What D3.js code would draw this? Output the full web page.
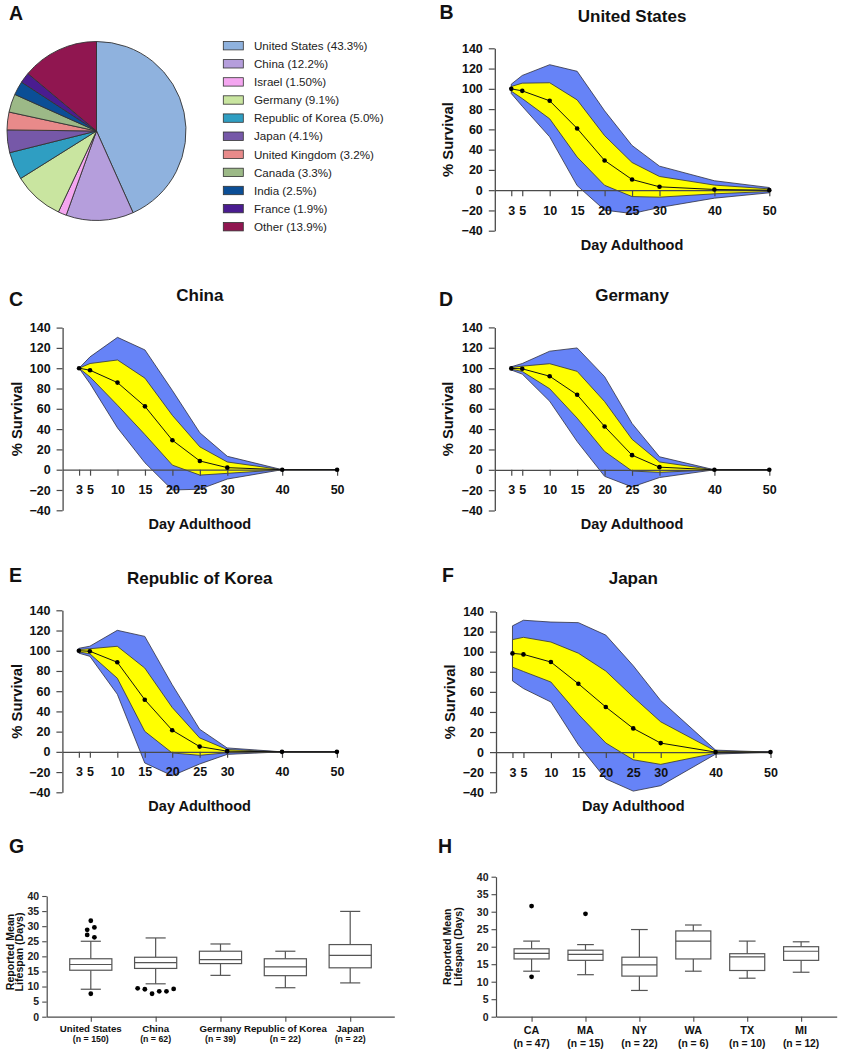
<!DOCTYPE html>
<html><head><meta charset="utf-8">
<script src="https://cdn.jsdelivr.net/npm/d3@7"></script>
<style>
body{margin:0;background:#fff}
svg{display:block}
text{font-family:"Liberation Sans",Arial,Helvetica,sans-serif}
</style>
</head><body>
<svg id="chart" width="842" height="1050"></svg>
<script>
// ---------- Panel A: pie ----------
const pieCategories = ["United States","China","Israel","Germany","Republic of Korea","Japan","United Kingdom","Canada","India","France","Other"];
const pieValues = [43.3,12.2,1.5,9.1,5.0,4.1,3.2,3.3,2.5,1.9,13.9];
const pieLegendLabels = ["United States (43.3%)","China (12.2%)","Israel (1.50%)","Germany (9.1%)","Republic of Korea (5.0%)","Japan (4.1%)","United Kingdom (3.2%)","Canada (3.3%)","India (2.5%)","France (1.9%)","Other (13.9%)"];
const pieColors = ["#8fb2de","#b59edc","#f4a6f0","#c9e5a0","#2f9ec2","#7658a8","#e88a8a","#9cb987","#0b4e96","#4a1c90","#901650"];

// ---------- Panels B-F: survival (mean and SD at each day) ----------
const days = [3,5,10,15,20,25,30,40,50];
const xTickValues = [3,5,10,15,20,25,30,40,50];
const yTickValues = [-40,-20,0,20,40,60,80,100,120,140];
const usMean      = [100,98,88.2,60.9,29.3,10.5,3.3,0.7,0];
const usSD        = [2.3,7.6,17.8,28.2,24.5,16.8,10.2,4.3,1.3];
const chinaMean   = [100,98,85.8,62.4,29,8.6,2,0,0];
const chinaSD     = [0,6.6,22.3,27.8,24.5,13.9,5.6,0,0];
const germanyMean = [99.7,99.3,92,73.8,42.6,14.4,2.6,0,0];
const germanySD   = [0.8,2.6,12.3,23,24.5,15.6,5.1,0,0];
const koreaMean   = [100,99.5,88.6,51.6,21.4,5.2,0.7,0,0];
const koreaSD     = [1.2,2.5,15.8,31.3,22.5,8.6,1.6,0,0];
const japanMean   = [98.3,97.3,89.7,68.1,44.9,23.6,9,0,0];
const japanSD     = [13.7,17,19.9,30.4,35.8,31.2,21.2,1,0];

// ---------- Panel G: box plots by country ----------
const gCategories = ["United States","China","Germany","Republic of Korea","Japan"];
const gN          = [150,62,39,22,22];
const gLow        = [9.1,10.9,13.7,9.6,11.2];
const gQ1         = [15.4,16.0,17.6,13.6,16.2];
const gMedian     = [17.3,17.9,18.9,16.5,20.3];
const gQ3         = [19.2,19.7,21.7,19.2,23.9];
const gHigh       = [25.0,26.1,24.1,21.7,34.9];
const gOutliers   = [[31.8,28.8,29.6,27.1,26.3,7.6],[9.4,9.1,7.6,8.4,8.4,9.2],[],[],[]];

// ---------- Panel H: box plots by US state ----------
const hCategories = ["CA","MA","NY","WA","TX","MI"];
const hN          = [47,15,22,6,10,12];
const hLow        = [13.0,12.0,7.5,13.0,11.0,12.7];
const hQ1         = [16.5,16.1,11.6,16.5,13.2,16.1];
const hMedian     = [18.1,17.8,14.8,21.6,17.1,18.7];
const hQ3         = [19.4,19.0,17.0,24.5,18.0,20.0];
const hHigh       = [21.6,20.6,24.9,26.2,21.6,21.4];
const hOutliers   = [[31.6,11.4],[29.4],[],[],[],[]];
const boxYTicks   = [0,5,10,15,20,25,30,35,40];

const svg = d3.select("#chart");
const AXIS = "#4a4a4a";

function letter(t, x, y) {
  svg.append("text").attr("x", x).attr("y", y).attr("font-size", 19.5)
    .attr("font-weight", "bold").attr("fill", "#111").text(t);
}

// ---------- Pie ----------
(function () {
  letter("A", 9, 19.5);
  const g = svg.append("g").attr("transform", "translate(96.5,131)");
  const pie = d3.pie().sort(null).value(d => d)(pieValues);
  const arc = d3.arc().innerRadius(0).outerRadius(89.5);
  g.selectAll("path").data(pie).join("path")
    .attr("d", arc).attr("fill", (d, i) => pieColors[i])
    .attr("stroke", "#333").attr("stroke-width", 0.9);
  const lg = svg.append("g");
  const row = d3.scaleLinear().domain([0, 10]).range([45.7, 226.7]);
  pieLegendLabels.forEach((lab, i) => {
    lg.append("rect").attr("x", 223.3).attr("y", row(i) - 4.2).attr("width", 20).attr("height", 8.4)
      .attr("fill", pieColors[i]).attr("stroke", "#333").attr("stroke-width", 0.8);
    lg.append("text").attr("x", 254).attr("y", row(i) + 4.2).attr("font-size", 11.6)
      .attr("fill", "#222").text(lab);
  });
})();

// ---------- Survival panels ----------
function survivalPanel(o) {
  letter(o.letter, o.letterX, o.letterY);
  const x = d3.scaleLinear().domain([0, 50]).range([o.left, o.left + 274.5]);
  const y = d3.scaleLinear().domain([-40, 140]).range([o.bottom, o.top]);
  const pts = days.map((d, i) => ({ d: d, m: o.mean[i], s: o.sd[i] }));
  const band = k => d3.area().x(p => x(p.d)).y0(p => y(p.m - k * p.s)).y1(p => y(p.m + k * p.s));
  const g = svg.append("g");
  g.append("path").datum(pts).attr("d", band(2)).attr("fill", "#6683f7")
    .attr("stroke", "#2e3040").attr("stroke-width", 0.8).attr("stroke-linejoin", "round");
  g.append("path").datum(pts).attr("d", band(1)).attr("fill", "#ffff00")
    .attr("stroke", "#333").attr("stroke-width", 0.8).attr("stroke-linejoin", "round");

  const ya = g.append("g").attr("transform", `translate(${x(0)},0)`)
    .call(d3.axisLeft(y).tickValues(yTickValues).tickSize(6).tickSizeOuter(0).tickPadding(6));
  const xa = g.append("g").attr("transform", `translate(0,${y(0)})`)
    .call(d3.axisBottom(x).tickValues(xTickValues).tickSize(6).tickSizeOuter(0).tickPadding(9.6));
  [ya, xa].forEach(a => {
    a.select(".domain").attr("stroke", AXIS).attr("stroke-width", 1.3);
    a.selectAll(".tick line").attr("stroke", AXIS).attr("stroke-width", 1.2);
    a.selectAll(".tick text").attr("font-size", 12.5).attr("font-weight", "bold")
      .attr("fill", "#111").attr("font-family", "Liberation Sans, Arial, sans-serif");
  });

  g.append("path").datum(pts).attr("fill", "none").attr("stroke", "#111").attr("stroke-width", 1)
    .attr("d", d3.line().x(p => x(p.d)).y(p => y(p.m)));
  g.selectAll("circle").data(pts).join("circle")
    .attr("cx", p => x(p.d)).attr("cy", p => y(p.m)).attr("r", 2.3).attr("fill", "#000");

  const cx = x(25);
  svg.append("text").attr("x", cx).attr("y", o.titleY).attr("text-anchor", "middle")
    .attr("font-size", 17).attr("font-weight", "bold").attr("fill", "#111").text(o.title);
  svg.append("text").attr("x", cx).attr("y", o.xlabY).attr("text-anchor", "middle")
    .attr("font-size", 14.5).attr("font-weight", "bold").attr("fill", "#111").text("Day Adulthood");
  svg.append("text").attr("transform", `translate(${o.ylabX},${(o.top + o.bottom) / 2}) rotate(-90)`)
    .attr("text-anchor", "middle").attr("font-size", 14.8).attr("font-weight", "bold")
    .attr("fill", "#111").text("% Survival");
}

survivalPanel({ letter: "B", title: "United States", mean: usMean, sd: usSD,
  left: 494.8, top: 48.3, bottom: 230.7, titleY: 21.7, xlabY: 250, ylabX: 453.3, letterX: 439.5, letterY: 18.5 });
survivalPanel({ letter: "C", title: "China", mean: chinaMean, sd: chinaSD,
  left: 62.6, top: 327.6, bottom: 510.3, titleY: 300.7, xlabY: 529, ylabX: 21.7, letterX: 9, letterY: 305.7 });
survivalPanel({ letter: "D", title: "Germany", mean: germanyMean, sd: germanySD,
  left: 494.8, top: 327.4, bottom: 510.5, titleY: 300.5, xlabY: 529, ylabX: 453.3, letterX: 439, letterY: 305.7 });
survivalPanel({ letter: "E", title: "Republic of Korea", mean: koreaMean, sd: koreaSD,
  left: 62.4, top: 610.3, bottom: 792.3, titleY: 584.3, xlabY: 810.7, ylabX: 21.7, letterX: 9, letterY: 581.7 });
survivalPanel({ letter: "F", title: "Japan", mean: japanMean, sd: japanSD,
  left: 496, top: 611.5, bottom: 792.3, titleY: 584.3, xlabY: 810.7, ylabX: 455, letterX: 442, letterY: 581.7 });

// ---------- Box plot panels ----------
function clusterDodge(vals, y, cx, r) {
  const clusters = [];
  vals.forEach(v => {
    const py = y(v);
    let c = clusters.find(cl => cl.some(p => Math.abs(p.y - py) < 2 * r));
    if (!c) { c = []; clusters.push(c); }
    c.push({ v: v, y: py });
  });
  const out = [];
  const sp = 2 * r + 2.4;
  clusters.forEach(cl => cl.forEach((p, i) => out.push({ x: cx + (i - (cl.length - 1) / 2) * sp, y: p.y })));
  return out;
}

function boxPanel(o) {
  letter(o.letter, o.letterX, 853);
  const x = d3.scalePoint().domain(o.cats).range([o.axisX, o.right]).padding(o.pad);
  const y = d3.scaleLinear().domain([0, 40]).range([1016.7, o.top]);
  const g = svg.append("g");
  const step = x.step();
  const ya = g.append("g").attr("transform", `translate(${o.axisX},0)`)
    .call(d3.axisLeft(y).tickValues(boxYTicks).tickSize(4.5).tickSizeOuter(0).tickPadding(3));
  const xa = g.append("g").attr("transform", `translate(0,${y(0)})`)
    .call(d3.axisBottom(x).tickSize(5).tickSizeOuter(0).tickFormat(""));
  [ya, xa].forEach(a => {
    a.select(".domain").attr("stroke", AXIS).attr("stroke-width", 1.2);
    a.selectAll(".tick line").attr("stroke", AXIS).attr("stroke-width", 1.1);
  });
  ya.selectAll(".tick text").attr("font-size", 10.5).attr("font-weight", "bold").attr("fill", "#222")
    .attr("font-family", "Liberation Sans, Arial, sans-serif");

  const bw = step * 0.65, cw = step * 0.31;
  o.cats.forEach((c, i) => {
    const cx = x(c);
    const bg = g.append("g").attr("stroke", "#555").attr("stroke-width", 1.2).attr("fill", "none");
    bg.append("line").attr("x1", cx).attr("x2", cx).attr("y1", y(o.high[i])).attr("y2", y(o.q3[i]));
    bg.append("line").attr("x1", cx).attr("x2", cx).attr("y1", y(o.q1[i])).attr("y2", y(o.low[i]));
    bg.append("line").attr("x1", cx - cw / 2).attr("x2", cx + cw / 2).attr("y1", y(o.high[i])).attr("y2", y(o.high[i]));
    bg.append("line").attr("x1", cx - cw / 2).attr("x2", cx + cw / 2).attr("y1", y(o.low[i])).attr("y2", y(o.low[i]));
    bg.append("rect").attr("x", cx - bw / 2).attr("width", bw).attr("y", y(o.q3[i]))
      .attr("height", y(o.q1[i]) - y(o.q3[i])).attr("fill", "#fff");
    bg.append("line").attr("x1", cx - bw / 2).attr("x2", cx + bw / 2).attr("y1", y(o.med[i])).attr("y2", y(o.med[i]));
    clusterDodge(o.outliers[i], y, cx, 2.4).forEach(p => {
      g.append("circle").attr("cx", p.x).attr("cy", p.y).attr("r", 2.4).attr("fill", "#000");
    });
    g.append("text").attr("x", cx).attr("y", o.nameY).attr("text-anchor", "middle")
      .attr("font-size", o.nameSize).attr("font-weight", "bold").attr("fill", "#111").text(c);
    g.append("text").attr("x", cx).attr("y", o.nY).attr("text-anchor", "middle")
      .attr("font-size", o.nSize).attr("font-weight", "bold").attr("fill", "#111").text(`(n = ${o.n[i]})`);
  });
  const lab = svg.append("text").attr("transform", `translate(${o.ylabX},${o.ylabY}) rotate(-90)`)
    .attr("text-anchor", "middle").attr("font-size", 10.6).attr("font-weight", "bold").attr("fill", "#111");
  lab.append("tspan").attr("x", 0).attr("dy", 0).text("Reported Mean");
  lab.append("tspan").attr("x", 0).attr("dy", o.ylabGap).text("Lifespan (Days)");
}

boxPanel({ letter: "G", letterX: 9, cats: gCategories, n: gN, low: gLow, q1: gQ1, med: gMedian, q3: gQ3,
  high: gHigh, outliers: gOutliers, axisX: 46.7, right: 394.3, pad: 0.68, top: 896,
  nameY: 1031.5, nY: 1041.8, nameSize: 9.7, nSize: 8.8, ylabX: 13.5, ylabY: 952, ylabGap: 9.6 });
boxPanel({ letter: "H", letterX: 438, cats: hCategories, n: hN, low: hLow, q1: hQ1, med: hMedian, q3: hQ3,
  high: hHigh, outliers: hOutliers, axisX: 496, right: 836.7, pad: 0.66, top: 876.7,
  nameY: 1033.5, nY: 1046.5, nameSize: 10.8, nSize: 10.3, ylabX: 451.3, ylabY: 946.7, ylabGap: 10.6 });
</script>
</body></html>
